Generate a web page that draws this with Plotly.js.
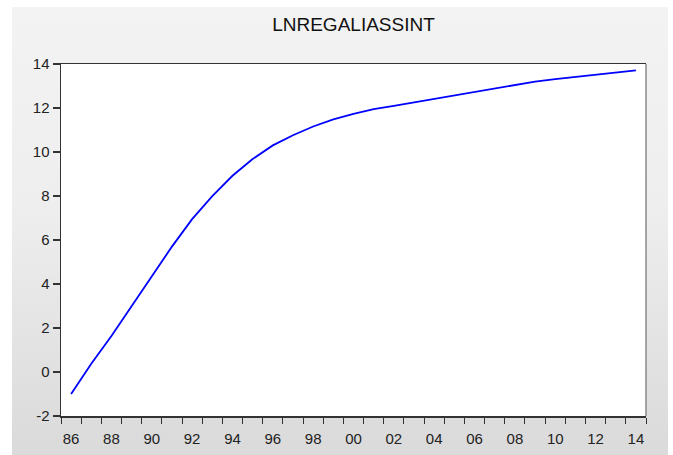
<!DOCTYPE html>
<html>
<head>
<meta charset="utf-8">
<script src="https://cdn.plot.ly/plotly-3.0.1.min.js"></script>
<style>
  html, body { margin: 0; padding: 0; background: #ffffff; }
  #bg { position: absolute; left: 12px; top: 7px; width: 656px; height: 448px;
        background: linear-gradient(to bottom, #f3f3f3 0%, #eeeeee 45%, #dadada 100%); }
  #chart { position: absolute; left: 0; top: 0; width: 673px; height: 455px; }
</style>
</head>
<body>
<div id="bg"></div>
<div id="chart"></div>
<script>
const years = [1986, 1987, 1988, 1989, 1990, 1991, 1992, 1993, 1994, 1995,
               1996, 1997, 1998, 1999, 2000, 2001, 2002, 2003, 2004, 2005,
               2006, 2007, 2008, 2009, 2010, 2011, 2012, 2013, 2014];
const lnregaliassint = [-1.00, 0.38, 1.64, 2.99, 4.36, 5.70, 6.95, 7.99, 8.92, 9.68,
                        10.30, 10.76, 11.16, 11.48, 11.73, 11.95, 12.10, 12.26, 12.42, 12.58,
                        12.74, 12.90, 13.06, 13.20, 13.31, 13.41, 13.51, 13.61, 13.71];
const tickYears = [1986, 1988, 1990, 1992, 1994, 1996, 1998, 2000, 2002, 2004, 2006, 2008, 2010, 2012, 2014];
const tickLabels = ["86", "88", "90", "92", "94", "96", "98", "00", "02", "04", "06", "08", "10", "12", "14"];
const yTickVals = [-2, 0, 2, 4, 6, 8, 10, 12, 14];
const yTickLabels = ["-2", "0", "2", "4", "6", "8", "10", "12", "14"];
const chartTitle = "LNREGALIASSINT";

const font = { family: "Liberation Sans, Arial, sans-serif", size: 15, color: "#222222" };

Plotly.newPlot("chart", [{
  x: years,
  y: lnregaliassint,
  type: "scatter",
  mode: "lines",
  line: { color: "#0000ff", width: 1.8 },
  hoverinfo: "skip"
}], {
  width: 673,
  height: 455,
  margin: { l: 61, r: 27, t: 64, b: 39, pad: 0 },
  paper_bgcolor: "rgba(0,0,0,0)",
  plot_bgcolor: "#ffffff",
  showlegend: false,
  font: font,
  title: {
    text: chartTitle,
    font: { family: "Liberation Sans, Arial, sans-serif", size: 19, color: "#111111" },
    x: 0.5, xref: "paper",
    y: 1 - 24 / 455, yref: "container", yanchor: "middle"
  },
  xaxis: {
    range: [1985.5, 2014.5],
    tickmode: "array",
    tickvals: tickYears,
    ticktext: tickLabels,
    ticks: "outside",
    ticklen: 8,
    tickcolor: "rgba(0,0,0,0)",
    minor: { tick0: 1985.5, dtick: 1, ticks: "outside", ticklen: 6, tickwidth: 1, tickcolor: "#333333", showgrid: false },
    showgrid: false,
    zeroline: false,
    showline: true,
    linecolor: "#333333",
    linewidth: 1.5,
    mirror: true,
    tickfont: font,
    fixedrange: true
  },
  yaxis: {
    range: [-2, 14],
    tickmode: "array",
    tickvals: yTickVals,
    ticktext: yTickLabels,
    ticks: "outside",
    ticklen: 7,
    tickwidth: 1.5,
    tickcolor: "#333333",
    showgrid: false,
    zeroline: false,
    showline: true,
    linecolor: "#333333",
    linewidth: 1.5,
    mirror: false,
    tickfont: font,
    fixedrange: true
  },
  shapes: [{
    type: "line", xref: "paper", yref: "paper",
    x0: 1, x1: 1, y0: 0, y1: 1,
    line: { color: "#8a8a8a", width: 1.5 }
  }]
}, { staticPlot: true, displayModeBar: false });
</script>
</body>
</html>
